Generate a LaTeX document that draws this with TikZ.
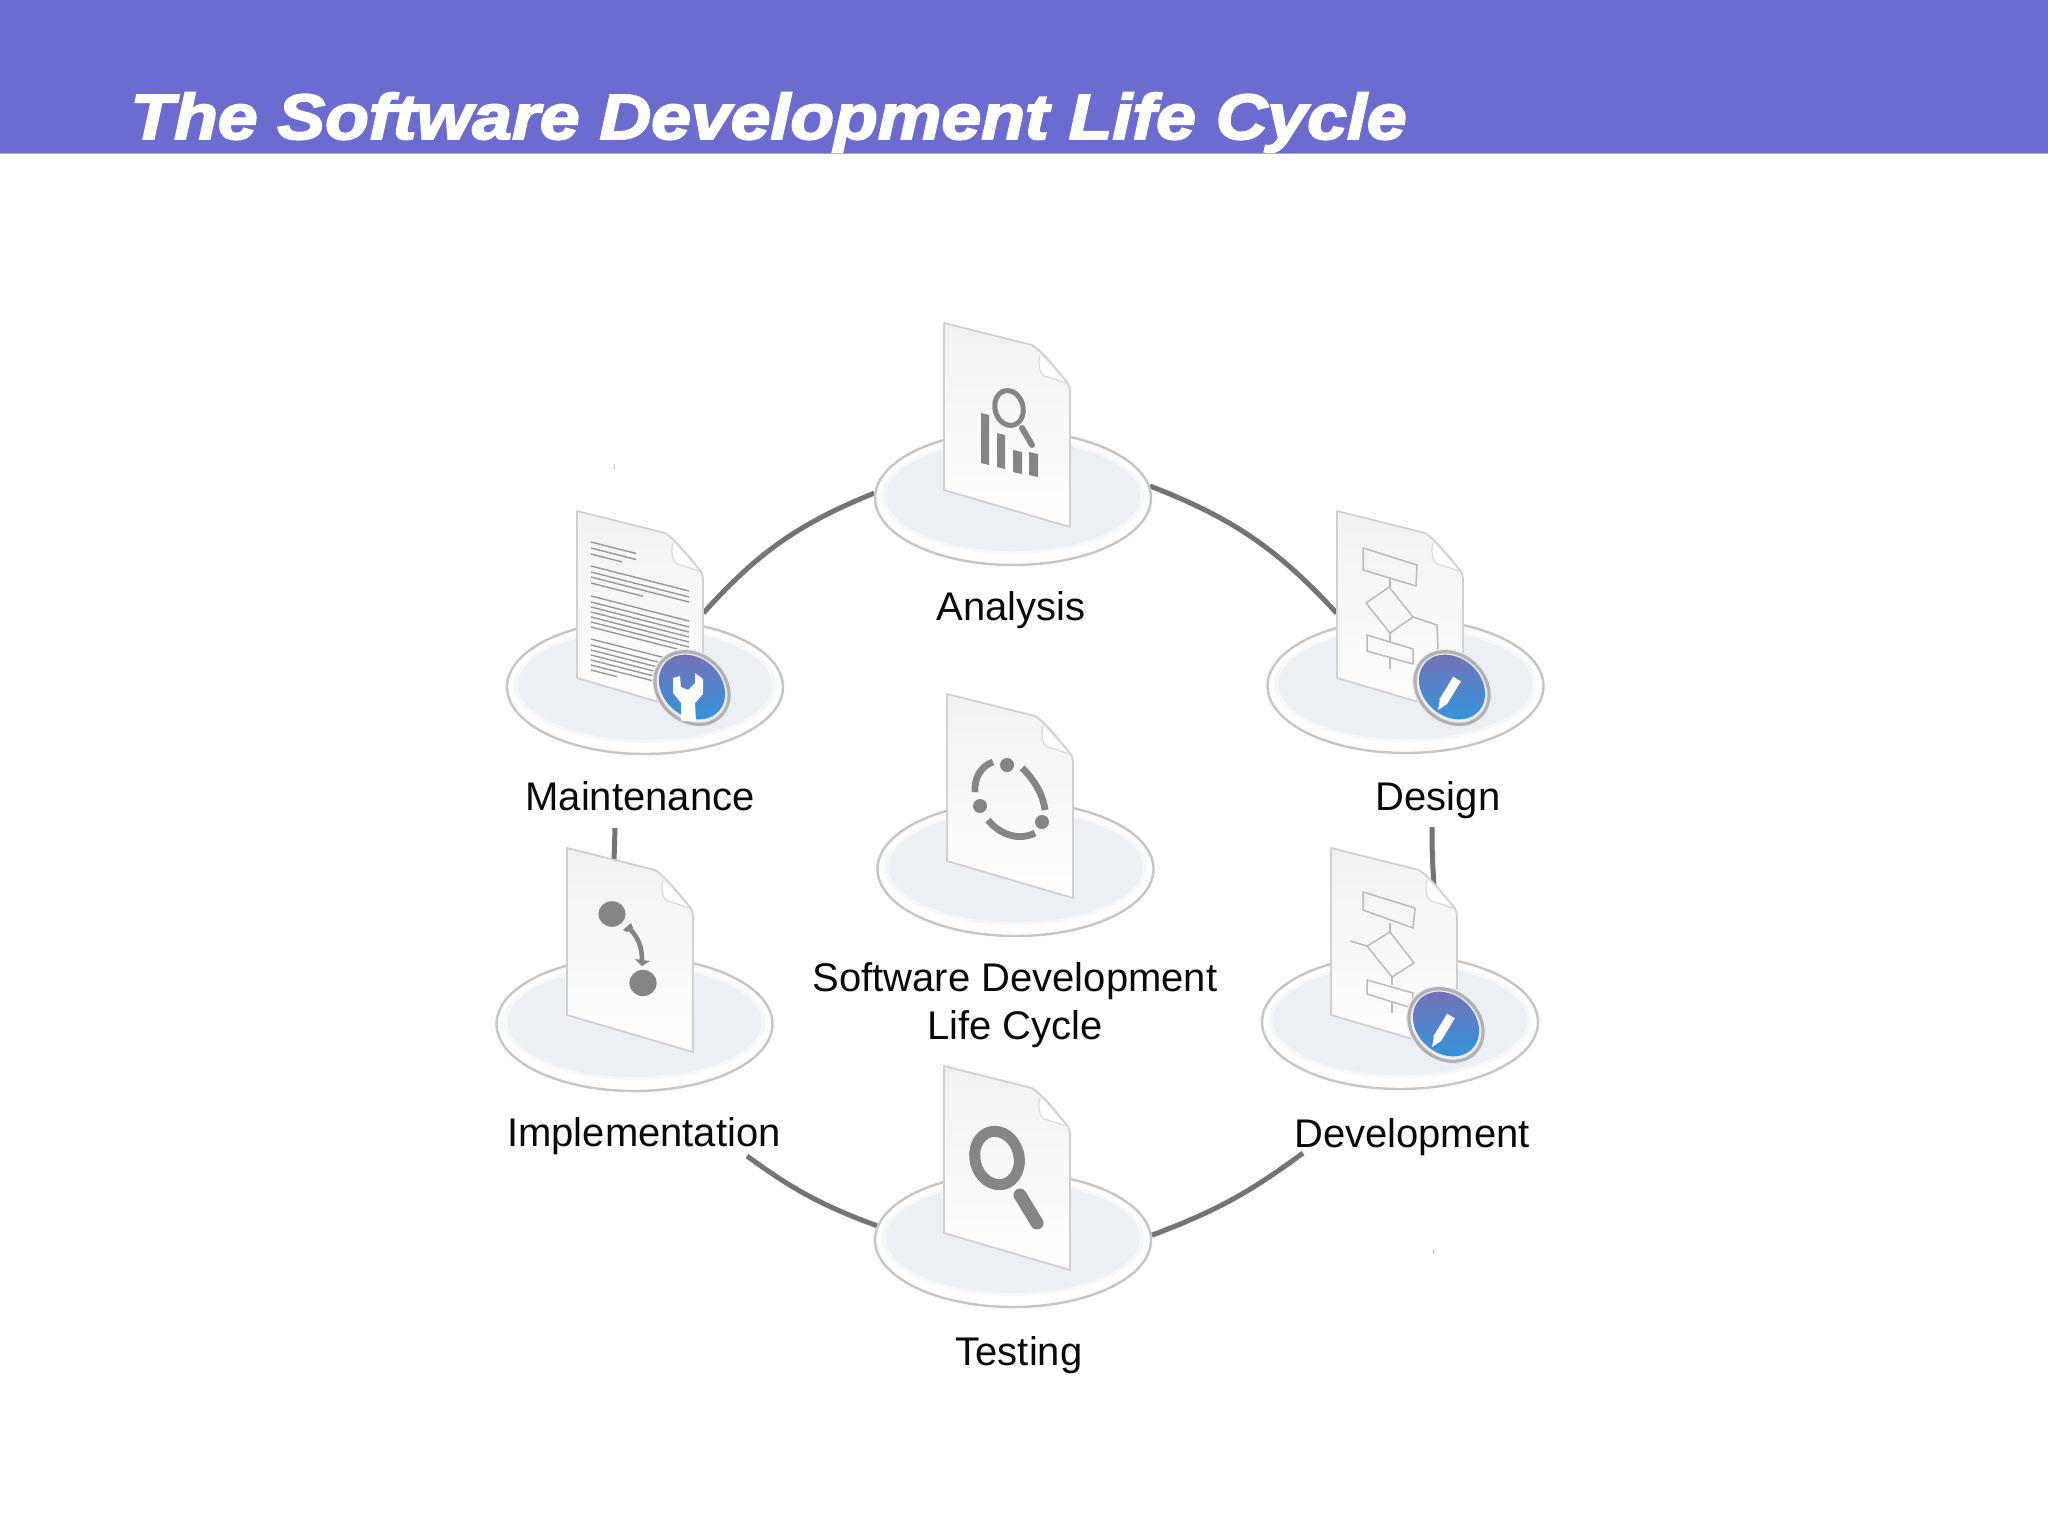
\documentclass[tikz,border=0pt]{standalone}
\usepackage{fontspec}
\setmainfont{Liberation Sans}
\newfontfamily\ttlfont[UprightFont=* Bold Italic,FakeBold=3,FakeStretch=1.118]{Liberation Sans}
\usetikzlibrary{shapes.geometric}
\pgfdeclarelayer{back}
\pgfsetlayers{back,main}
\definecolor{hdr}{RGB}{108,107,208}
\definecolor{ringc}{RGB}{116,116,118}
\definecolor{plateedge}{RGB}{198,198,200}
\definecolor{platein}{RGB}{236,239,244}
\definecolor{platemid}{RGB}{245,247,250}
\definecolor{sheettop}{RGB}{241,241,243}
\definecolor{sheetedge}{RGB}{208,208,211}
\definecolor{iconc}{RGB}{133,133,135}
\definecolor{flowc}{RGB}{186,186,188}
\definecolor{txtc}{RGB}{10,10,10}
\definecolor{badgetop}{RGB}{118,112,182}
\definecolor{badgemid}{RGB}{38,62,152}
\definecolor{badgebot}{RGB}{48,150,222}
\definecolor{badgering}{RGB}{176,176,182}
\tikzset{
  x=0.5pt,y=-0.5pt,
  plateshape/.style={ellipse,draw=plateedge,fill=white,line width=1.2pt,minimum width=138pt,minimum height=67pt,inner sep=0pt},
  sheetbox/.style={rectangle,minimum width=63pt,minimum height=102pt,inner sep=0pt},
  lbl/.style={font=\fontsize{20}{24}\selectfont,text=txtc,inner sep=0pt,align=center},
  ringline/.style={draw=ringc,line width=2.5pt},
  flow/.style={draw=flowc,line width=0.75pt,line join=round},
  icon/.style={draw=iconc,line cap=butt},
  textline/.style={draw=iconc!85,line width=0.7pt},
}
\newcommand{\platedisc}[3]{%
  \node[plateshape] (#1) at (#2,#3) {};
  \fill[platemid] (#2,#3-2) ellipse [x radius=65.5pt,y radius=29pt];
  \fill[platein] (#2,#3-2) ellipse [x radius=63.5pt,y radius=27.5pt];
}
\newcommand{\sheetbase}{%
  \shade[top color=sheettop,middle color=white,bottom color=white]
    (0,0) -- (88,22) .. controls (100,30) and (112,46) .. (122,58) .. controls (125,61) and (126,65) .. (126,70)
    -- (126,204) -- (0,167) -- cycle;
  \draw[draw=sheetedge,line width=0.9pt,line join=round]
    (0,0) -- (88,22) .. controls (100,30) and (112,46) .. (122,58) .. controls (125,61) and (126,65) .. (126,70)
    -- (126,204) -- (0,167) -- cycle;
  \fill[white] (96,32) .. controls (94,40) and (95,50) .. (100,53) .. controls (108,55) and (116,58) .. (122,60) -- cycle;
  \draw[draw=sheetedge!80,line width=0.6pt] (96,32) .. controls (94,40) and (95,50) .. (100,53) .. controls (108,55) and (116,58) .. (122,60);
}
\newcommand{\bluebadge}{%
  \fill[white!85!gray] (115,177) ellipse [x radius=21.5pt,y radius=18pt,rotate=-42];
  \draw[badgering,line width=1.6pt] (115,177) ellipse [x radius=20pt,y radius=16.5pt,rotate=-42];
  \shade[top color=badgetop,middle color=badgemid,bottom color=badgebot]
     (115,176) ellipse [x radius=18pt,y radius=14.5pt,rotate=-42];
}
\begin{document}
\begin{tikzpicture}
\useasboundingbox (0,0) rectangle (2048,1536);
\fill[hdr] (0,0) rectangle (2048,153);
\fill[hdr!60!white] (0,152.5) rectangle (2048,154);
\node[anchor=base west,text=white,inner sep=0pt,font=\ttlfont\fontsize{32}{36}\selectfont] (title) at (130,139) {The Software Development Life Cycle};

% plates
\platedisc{anaP}{1013}{498}
\platedisc{mntP}{645}{687}
\platedisc{desP}{1405.5}{686}
\platedisc{impP}{634.5}{1024}
\platedisc{devP}{1400}{1022}
\platedisc{cenP}{1015.5}{869}
\platedisc{tstP}{1013}{1240}

% Analysis
\begin{scope}[shift={(944,323)}]
  \sheetbase
  \node[sheetbox] (anaD) at (63,102) {};
  \draw[icon,line width=2.5pt] (65,85) ellipse [x radius=7pt,y radius=8.8pt,rotate=15];
  \draw[icon,line width=3pt,line cap=round] (78,105) -- (88,122);
  \fill[iconc] (37,90) -- (45,92) -- (45,142) -- (37,140) -- cycle;
  \fill[iconc] (53,110) -- (61,112) -- (61,146) -- (53,144) -- cycle;
  \fill[iconc] (69,127) -- (78,129) -- (78,151) -- (69,149) -- cycle;
  \fill[iconc] (85,129) -- (94,131) -- (94,154) -- (85,152) -- cycle;
\end{scope}

% Maintenance
\begin{scope}[shift={(577,511)}]
  \sheetbase
  \node[sheetbox] (mntD) at (63,102) {};
  \foreach \yy/\xx in {31/59,37/59,43/45,55/112,61/112,66/112,72/66,85/112,91/112,96/112,101/112,106/112,111/112,116/100,128/112,134/112,139/112,144/112,149/112,154/112,159/40}
    \draw[textline] (14,\yy) -- (\xx,{\yy+(\xx-14)*0.255});
  \bluebadge
  \fill[white] (96,167) -- (103,165) -- (104,176) -- (111,179) -- (118,172) -- (118,162) -- (126,168) -- (126,183) -- (118,192) -- (119,210) -- (104,210) -- (104,192) -- (96,182) -- cycle;
\end{scope}

% Design
\begin{scope}[shift={(1337,511)}]
  \sheetbase
  \node[sheetbox] (desD) at (63,102) {};
  \draw[flow] (26,37) -- (80,54) -- (79,75) -- (26,59) -- cycle;
  \draw[flow] (53,67) -- (53,76);
  \draw[flow] (52,76) -- (76,106) -- (53,122) -- (29,92) -- cycle;
  \draw[flow] (76,106) -- (100,114) -- (101,139);
  \draw[flow] (53,122) -- (53,131);
  \draw[flow] (30,124) -- (76,138) -- (76,153) -- (30,140) -- cycle;
  \draw[flow] (53,146) -- (53,158);
  \bluebadge
  \draw[white,line width=4.5pt] (106,191) -- (120,168);
  \fill[white] (101,199) -- (103,188) -- (110,193) -- cycle;
\end{scope}

% Implementation
\begin{scope}[shift={(567,848)}]
  \sheetbase
  \node[sheetbox] (impD) at (63,102) {};
  \fill[iconc] (45,66) ellipse [x radius=6.8pt,y radius=6.4pt];
  \fill[iconc] (76,135) ellipse [x radius=6.8pt,y radius=6.6pt];
  \draw[iconc,line width=2.3pt] (60,79) .. controls (70,86) and (75,98) .. (75,112);
  \fill[iconc] (68,111) -- (83,113) -- (75,118) -- cycle;
  \fill[iconc] (56,82) -- (64,75) -- (66,80) -- (60,84) -- cycle;
\end{scope}

% Development
\begin{scope}[shift={(1331,848)}]
  \sheetbase
  \node[sheetbox] (devD) at (63,102) {};
  \draw[flow] (32,44) -- (84,60) -- (82,80) -- (32,62) -- cycle;
  \draw[flow] (59,75) -- (59,84);
  \draw[flow] (59,84) -- (83,115) -- (61,129) -- (36,98) -- cycle;
  \draw[flow] (36,98) -- (19,93);
  \draw[flow] (61,129) -- (61,137);
  \draw[flow] (36,132) -- (82,145) -- (81,160) -- (36,146) -- cycle;
  \draw[flow] (61,154) -- (61,165);
  \bluebadge
  \draw[white,line width=4.5pt] (106,191) -- (120,168);
  \fill[white] (101,199) -- (103,188) -- (110,193) -- cycle;
\end{scope}

% Centre
\begin{scope}[shift={(947,694)}]
  \sheetbase
  \node[sheetbox] (cenD) at (63,102) {};
  \draw[icon,line width=3.4pt] (28,98) .. controls (27,84) and (34,72) .. (46,68);
  \fill[iconc] (60,71) circle (3.5pt);
  \draw[icon,line width=3.4pt] (75,74) .. controls (86,84) and (96,100) .. (98,116);
  \fill[iconc] (95,128) circle (3.5pt);
  \draw[icon,line width=3.4pt] (88,139) .. controls (72,147) and (53,141) .. (41,126);
  \fill[iconc] (33,112) circle (3.5pt);
\end{scope}

% Testing
\begin{scope}[shift={(944,1066)}]
  \sheetbase
  \node[sheetbox] (tstD) at (63,102) {};
  \draw[icon,line width=5.5pt] (53,92) ellipse [x radius=11pt,y radius=13.5pt,rotate=15];
  \draw[icon,line width=6.5pt,line cap=round] (76,129) -- (93,157);
\end{scope}

% labels
\node[lbl] (anaL) at (1011,610) {Analysis};
\node[lbl] (mntL) at (640,796) {Maintenance};
\node[lbl] (desL) at (1438,800) {Design};
\node[lbl] (impL) at (644,1136) {Implementation};
\node[lbl] (devL) at (1412,1137) {Development};
\node[lbl] (tstL) at (1019,1355) {Testing};
\node[lbl] (cenL) at (1015,1005) {Software Development\\Life Cycle};

\coordinate (mntEnd) at (615,828);
\coordinate (impTop) at (614,862);
\coordinate (desEnd) at (1432,827);
\coordinate (devTop) at (1434,885);
\coordinate (impEnd) at (747,1156);
\coordinate (devEnd) at (1303,1153);

\begin{pgfonlayer}{back}
  \draw[ringline] (anaP.5.5) to[bend left=13] (desD.west);
  \draw[ringline] (anaP.178) to[bend right=13] (mntD.east);
  \draw[ringline] (mntEnd) -- (impTop);
  \draw[ringline] (desEnd) to[bend right=2] (devTop);
  \draw[ringline] (impEnd) to[bend right=8] (tstP.174);
  \draw[ringline] (devEnd) to[bend left=8] (tstP.2.5);
\end{pgfonlayer}
\draw[gray!50,line width=0.5pt] (614,464) -- (614,469);
\draw[gray!50,line width=0.5pt] (1433,1249) -- (1433,1254);
\end{tikzpicture}
\end{document}
